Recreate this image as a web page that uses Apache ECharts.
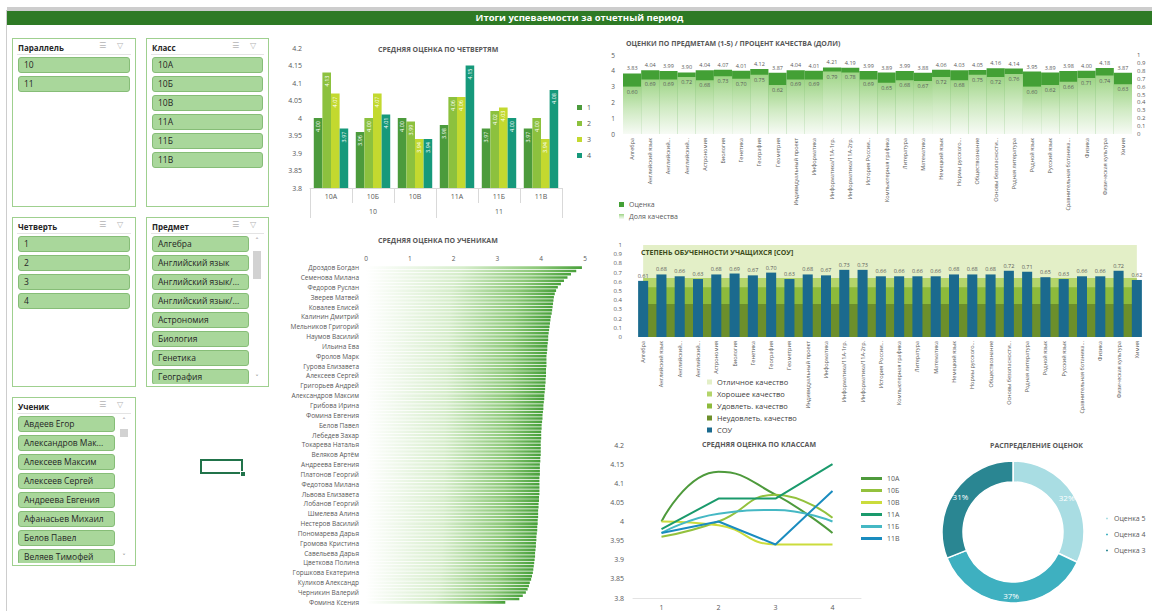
<!DOCTYPE html>
<html>
<head>
<meta charset="utf-8">
<script src="https://cdn.jsdelivr.net/npm/echarts@6/dist/echarts.min.js"></script>
<style>
  body { margin: 0; background: #fff; font-family: 'Open Sans', sans-serif; }
  #chart { position: absolute; left: 0; top: 0; width: 1159px; height: 611px; }
  .abs { position: absolute; }
  .sl { position: absolute; border: 1px solid #9fd08f; background: #fff; box-sizing: border-box; }
  .sl .hd { position: absolute; left: 5px; top: 3px; font: bold 8px 'Open Sans'; color: #262626; }
  .sl .ln { position: absolute; left: 4px; right: 4px; top: 15px; height: 1px; background: #e4e4e4; }
  .sl .ic { position: absolute; top: 2px; font: 8px 'DejaVu Sans'; color: #b4b4b4; }
  .sl .list { position: absolute; left: 0; right: 0; top: 17px; bottom: 2px; overflow: hidden; }
  .sl .it { position: absolute; height: 16px; box-sizing: border-box; background: #a9d79b; border: 1px solid #86bd77;
            border-radius: 3px; font: 8.5px 'Open Sans'; color: #262626; line-height: 14px; padding-left: 5px;
            white-space: nowrap; overflow: hidden; }
  .sl .sb { position: absolute; width: 10px; }
  .sl .ar { position: absolute; left: 0; width: 10px; text-align: center; font: 7px 'DejaVu Sans'; color: #777; }
  .sl .th { position: absolute; left: 1px; width: 8px; background: #d2d2d2; }
</style>
</head>
<body>
<div id="chart"></div>
<div id="ui"></div>
<script>
// ---- данные ----
const classes = ['10А', '10Б', '10В', '11А', '11Б', '11В']
const parallels = ['10', '11']
const quarters = ['1', '2', '3', '4']
// средняя оценка по четвертям (по классам)
const q1 = [4.00, 3.96, 4.00, 3.98, 3.97, 3.97]
const q2 = [4.13, 4.00, 3.99, 4.06, 4.02, 4.00]
const q3 = [4.07, 4.07, 3.94, 4.06, 4.03, 3.94]
const q4 = [3.97, 4.01, 3.94, 4.15, 4.00, 4.08]

const subjects = ['Алгебра', 'Английский язык', 'Английский...', 'Английский...', 'Астрономия', 'Биология',
  'Генетика', 'География', 'Геометрия', 'Индивидуальный проект', 'Информатика', 'Информатика/11А-1гр.',
  'Информатика/11А-2гр.', 'История России...', 'Компьютерная графика', 'Литература', 'Математика',
  'Немецкий язык', 'Нормы русского...', 'Обществознание', 'Основы безопасности...', 'Родная литература',
  'Родной язык', 'Русский язык', 'Сравнительная ботаника...', 'Физика', 'Физическая культура', 'Химия']
const subjAvg = [3.83, 4.04, 3.99, 3.90, 4.04, 4.07, 4.01, 4.12, 3.87, 4.04, 4.01, 4.21, 4.19, 3.99,
  3.89, 3.99, 3.88, 4.06, 4.03, 4.05, 4.16, 4.14, 3.95, 3.89, 3.98, 4.00, 4.18, 3.87]
const subjQuality = [0.60, 0.69, 0.69, 0.72, 0.68, 0.73, 0.70, 0.75, 0.62, 0.69, 0.69, 0.79, 0.78, 0.69,
  0.65, 0.68, 0.67, 0.72, 0.68, 0.75, 0.72, 0.76, 0.60, 0.62, 0.66, 0.71, 0.74, 0.63]
const subjSou = [0.61, 0.68, 0.66, 0.63, 0.68, 0.69, 0.67, 0.70, 0.63, 0.68, 0.67, 0.73, 0.73, 0.66,
  0.66, 0.66, 0.66, 0.68, 0.68, 0.68, 0.72, 0.71, 0.65, 0.63, 0.66, 0.66, 0.72, 0.62]
// границы уровней СОУ
const bandNames = ['Отличное качество', 'Хорошее качество', 'Удовлеть. качество', 'Неудовлеть. качество']
const bandTops = [1.0, 0.64, 0.54, 0.36]

// подписаны только каждые 3 ученика
const studentNames = ['Дроздов Богдан', 'Семенова Милана', 'Федоров Руслан', 'Зверев Матвей', 'Ковалев Елисей',
  'Калинин Дмитрий', 'Мельников Григорий', 'Наумов Василий', 'Ильина Ева', 'Фролов Марк', 'Гурова Елизавета',
  'Алексеев Сергей', 'Григорьев Андрей', 'Александров Максим', 'Грибова Ирина', 'Фомина Евгения', 'Белов Павел',
  'Лебедев Захар', 'Токарева Наталья', 'Веляков Артём', 'Андреева Евгения', 'Платонов Георгий', 'Федотова Милана',
  'Львова Елизавета', 'Лобанов Георгий', 'Шмелева Алина', 'Нестеров Василий', 'Пономарева Дарья',
  'Громова Кристина', 'Савельева Дарья', 'Цветкова Полина', 'Горшкова Екатерина', 'Куликов Александр',
  'Черникин Валерий', 'Фомина Ксения']
const studentScores = [
  4.93, 4.80, 4.68, 4.60, 4.52, 4.45, 4.38, 4.34, 4.31, 4.29, 4.28, 4.27, 4.26, 4.25, 4.24,
  4.22, 4.21, 4.20, 4.19, 4.18, 4.17, 4.16, 4.16, 4.15, 4.14, 4.14, 4.13, 4.12, 4.12, 4.12,
  4.12, 4.11, 4.11, 4.11, 4.10, 4.10, 4.09, 4.09, 4.08, 4.07, 4.07, 4.06, 4.05, 4.05, 4.04,
  4.03, 4.03, 4.02, 4.01, 4.01, 4.00, 4.00, 4.00, 3.99, 3.99, 3.99, 3.99, 3.99, 3.98, 3.98,
  3.97, 3.97, 3.97, 3.97, 3.96, 3.96, 3.96, 3.96, 3.96, 3.96, 3.95, 3.95, 3.94, 3.94, 3.93,
  3.93, 3.93, 3.92, 3.92, 3.91, 3.91, 3.90, 3.89, 3.89, 3.88, 3.88, 3.87, 3.86, 3.86, 3.85,
  3.84, 3.83, 3.82, 3.81, 3.79, 3.77, 3.74, 3.72, 3.69, 3.65, 3.58, 3.50, 3.18]

const gradeNames = ['Оценка 5', 'Оценка 4', 'Оценка 3']
const gradeShare = [32, 37, 31]

// ---- оформление ----
const GRAY = '#595959'
const qColors = ['#4c9b3c', '#8cc13e', '#c3d92f', '#16997b']
const classColors = ['#4e9a3c', '#93c13d', '#cbdc3c', '#1a9a6c', '#45b8c4', '#1a8cbf']
const classSmooth = [true, true, true, false, true, false]
const bandColors = ['#e3efc7', '#b3d46a', '#8dba3b', '#6c8f2b']
const gradeColors = ['#a9dde3', '#3eb0c0', '#2a8692']

const studentAxis = studentScores.map((v, i) => (i % 3 === 0 ? studentNames[i / 3] : ''))
const quarterData = [q1, q2, q3, q4]

const chart = echarts.init(document.getElementById('chart'), null, { renderer: 'svg' })

const titleStyle = { fontSize: 7, fontWeight: 'bold', color: GRAY }
const small = (size) => ({ fontSize: size, color: GRAY })

const series = []

// четверти
quarters.forEach((q, k) => {
  series.push({
    name: q, type: 'bar', xAxisIndex: 0, yAxisIndex: 0,
    data: quarterData[k], barGap: '0%', barCategoryGap: '18%',
    itemStyle: { color: qColors[k] },
    label: {
      show: true, position: 'insideTop', rotate: 90, align: 'right', verticalAlign: 'middle',
      distance: 3, fontSize: 5.5, color: '#fff', formatter: p => p.value.toFixed(2)
    }
  })
})

// оценки по предметам / доля качества
series.push({
  name: 'Оценка', type: 'bar', xAxisIndex: 2, yAxisIndex: 1, data: subjAvg,
  barGap: '-100%', barCategoryGap: '0%',
  itemStyle: { color: '#43a035' },
  label: { show: true, position: 'top', distance: 2, fontSize: 5.5, color: GRAY, formatter: p => p.value.toFixed(2) }
})
series.push({
  name: 'Доля качества', type: 'bar', xAxisIndex: 2, yAxisIndex: 2, data: subjQuality,
  barGap: '-100%', barCategoryGap: '0%',
  itemStyle: {
    color: { type: 'linear', x: 0, y: 0, x2: 0, y2: 1,
      colorStops: [{ offset: 0, color: '#9ed486' }, { offset: 0.5, color: '#cfeac2' }, { offset: 1, color: '#f7fbf5' }] }
  },
  label: { show: true, position: 'insideTop', distance: 2, fontSize: 5.5, color: GRAY, formatter: p => p.value.toFixed(2) }
})

// ученики
series.push({
  name: 'Средняя', type: 'bar', xAxisIndex: 3, yAxisIndex: 3, data: studentScores,
  barCategoryGap: '22%',
  itemStyle: {
    color: { type: 'linear', x: 0, y: 0, x2: 1, y2: 0,
      colorStops: [{ offset: 0, color: '#ffffff' }, { offset: 0.45, color: '#d6edcb' },
        { offset: 0.8, color: '#8cc878' }, { offset: 1, color: '#48a03a' }] }
  }
})

// СОУ: полосы уровней
bandNames.forEach((n, k) => {
  series.push({
    name: n, type: 'line', xAxisIndex: 4, yAxisIndex: 4,
    data: [[0, bandTops[k]], [subjects.length - 1, bandTops[k]]],
    symbol: 'none', silent: true, z: 1,
    lineStyle: { opacity: 0 },
    itemStyle: { color: bandColors[k] },
    areaStyle: { color: bandColors[k], opacity: 1 }
  })
})
series.push({
  name: 'СОУ', type: 'bar', xAxisIndex: 4, yAxisIndex: 4, data: subjSou, z: 3,
  barCategoryGap: '45%',
  itemStyle: { color: '#1b6a8e' },
  label: { show: true, position: 'top', distance: 2, fontSize: 5.5, color: GRAY, formatter: p => p.value.toFixed(2) }
})

// по классам
classes.forEach((c, i) => {
  series.push({
    name: c, type: 'line', xAxisIndex: 5, yAxisIndex: 5,
    data: quarterData.map(q => q[i]),
    smooth: classSmooth[i], symbol: 'none',
    lineStyle: { width: 2, color: classColors[i] },
    itemStyle: { color: classColors[i] }
  })
})

// распределение оценок
series.push({
  name: 'Распределение', type: 'pie', center: [1013, 532], radius: [50, 71],
  startAngle: 90, clockwise: true,
  itemStyle: { borderColor: '#fff', borderWidth: 1.5 },
  label: { position: 'inside', formatter: p => p.value + '%', color: '#fff', fontSize: 8 },
  labelLine: { show: false },
  data: gradeNames.map((n, k) => ({ name: n, value: gradeShare[k], itemStyle: { color: gradeColors[k] } }))
})

const hideAxis = { axisLine: { show: false }, axisTick: { show: false }, splitLine: { show: false } }

const option = {
  animation: false,
  textStyle: { fontFamily: "'Open Sans', sans-serif" },
  title: [
    { text: 'СРЕДНЯЯ ОЦЕНКА ПО ЧЕТВЕРТЯМ', left: 378, top: 46, padding: 0, textStyle: titleStyle },
    { text: 'ОЦЕНКИ ПО ПРЕДМЕТАМ (1-5) / ПРОЦЕНТ КАЧЕСТВА (ДОЛИ)', left: 626, top: 40, padding: 0, textStyle: titleStyle },
    { text: 'СРЕДНЯЯ ОЦЕНКА ПО УЧЕНИКАМ', left: 378, top: 237, padding: 0, textStyle: titleStyle },
    { text: 'СТЕПЕНЬ ОБУЧЕННОСТИ УЧАЩИХСЯ [СОУ]', left: 641, top: 249, padding: 0,
      textStyle: { fontSize: 7, fontWeight: 'bold', color: '#3e4d1c' } },
    { text: 'СРЕДНЯЯ ОЦЕНКА ПО КЛАССАМ', left: 702, top: 441, padding: 0, textStyle: titleStyle },
    { text: 'РАСПРЕДЕЛЕНИЕ ОЦЕНОК', left: 990, top: 442, padding: 0, textStyle: titleStyle }
  ],
  legend: [
    { data: quarters, orient: 'vertical', left: 577, top: 104, icon: 'rect', itemWidth: 5, itemHeight: 5,
      itemGap: 9, textStyle: small(7), padding: 0 },
    { data: ['Оценка', 'Доля качества'], orient: 'vertical', left: 619, top: 201, icon: 'rect', itemWidth: 5,
      itemHeight: 5, itemGap: 5, textStyle: small(7), padding: 0 },
    { data: bandNames.concat(['СОУ']), orient: 'vertical', left: 707, top: 378, icon: 'rect', itemWidth: 5,
      itemHeight: 5, itemGap: 4, textStyle: { fontSize: 7.5, color: '#404040' }, padding: 0 },
    { data: classes, orient: 'vertical', left: 861, top: 475, icon: 'rect', itemWidth: 21, itemHeight: 3,
      itemGap: 5, textStyle: small(7), padding: 0 },
    { data: gradeNames, orient: 'vertical', left: 1104, top: 515, icon: 'circle', itemWidth: 4, itemHeight: 4,
      itemGap: 9, textStyle: small(7), padding: 0 }
  ],
  grid: [
    { left: 310, top: 48, width: 252, height: 140, outerBoundsMode: 'none' },
    { left: 623, top: 55, width: 509, height: 79, outerBoundsMode: 'none' },
    { left: 366, top: 266, width: 219, height: 338, outerBoundsMode: 'none' },
    { left: 634, top: 245, width: 512, height: 92, outerBoundsMode: 'none' },
    { left: 633, top: 445, width: 228, height: 153, outerBoundsMode: 'none' }
  ],
  xAxis: [
    { type: 'category', gridIndex: 0, data: classes,
      axisLine: { lineStyle: { color: '#d9d9d9' } }, axisTick: { show: true, length: 15, lineStyle: { color: '#d9d9d9' } },
      axisLabel: { interval: 0, margin: 5, ...small(7) } },
    { type: 'category', gridIndex: 0, data: parallels, position: 'bottom', offset: 15,
      axisLine: { show: false }, axisTick: { show: true, length: 15, lineStyle: { color: '#d9d9d9' } },
      axisLabel: { interval: 0, margin: 5, ...small(7) } },
    { type: 'category', gridIndex: 1, data: subjects,
      axisLine: { show: false }, axisTick: { show: false },
      axisLabel: { interval: 0, rotate: 90, margin: 4, ...small(5.5) } },
    { type: 'value', gridIndex: 2, position: 'top', min: 0, max: 5, interval: 1, ...hideAxis,
      axisLabel: { margin: 4, ...small(6.5) } },
    { type: 'category', gridIndex: 3, data: subjects,
      axisLine: { show: false }, axisTick: { show: false },
      axisLabel: { interval: 0, rotate: 90, margin: 4, ...small(5.5) } },
    { type: 'category', gridIndex: 4, data: quarters,
      axisLine: { lineStyle: { color: '#e3e3e3' } }, axisTick: { show: false },
      axisLabel: { margin: 6, ...small(7) } }
  ],
  yAxis: [
    { type: 'value', gridIndex: 0, min: 3.8, max: 4.2, interval: 0.05, ...hideAxis,
      axisLabel: { margin: 8, ...small(7) } },
    { type: 'value', gridIndex: 1, min: 0, max: 5, interval: 1, ...hideAxis,
      axisLabel: { margin: 8, ...small(6.5) } },
    { type: 'value', gridIndex: 1, position: 'right', min: 0, max: 1, interval: 0.1, ...hideAxis,
      axisLabel: { margin: 5, ...small(6) } },
    { type: 'category', gridIndex: 2, data: studentAxis, inverse: true,
      axisLine: { show: false }, axisTick: { show: false },
      axisLabel: { interval: 0, margin: 7, ...small(6.5) } },
    { type: 'value', gridIndex: 3, min: 0, max: 1, interval: 0.1, ...hideAxis,
      axisLabel: { margin: 12, ...small(6) } },
    { type: 'value', gridIndex: 4, min: 3.8, max: 4.2, interval: 0.05, ...hideAxis,
      axisLabel: { margin: 9, ...small(7) } }
  ],
  series: series
}

chart.setOption(option)

// ---- срезы (слайсеры) ----
const slicers = [
  { title: 'Параллель', x: 12, y: 38, w: 124, h: 169, items: parallels, iw: 112 },
  { title: 'Класс', x: 146, y: 38, w: 123, h: 169, items: classes, iw: 111 },
  { title: 'Четверть', x: 12, y: 217, w: 124, h: 170, items: quarters, iw: 112 },
  { title: 'Предмет', x: 146, y: 217, w: 123, h: 170, iw: 97, scroll: [33, 28],
    items: ['Алгебра', 'Английский язык', 'Английский язык/...', 'Английский язык/...', 'Астрономия', 'Биология', 'Генетика', 'География'] },
  { title: 'Ученик', x: 12, y: 397, w: 124, h: 169, iw: 97, scroll: [31, 8],
    items: ['Авдеев Егор', 'Александров Мак...', 'Алексеев Максим', 'Алексеев Сергей', 'Андреева Евгения', 'Афанасьев Михаил', 'Белов Павел', 'Веляев Тимофей'] }
]
const ui = document.getElementById('ui')
slicers.forEach(s => {
  let html = `<div class="hd">${s.title}</div><div class="ln"></div>` +
    `<div class="ic" style="left:${s.w - 38}px">☰</div><div class="ic" style="left:${s.w - 20}px">▽</div><div class="list">`
  s.items.forEach((t, i) => {
    html += `<div class="it" style="left:5px;top:${1 + i * 19}px;width:${s.iw}px">${t}</div>`
  })
  html += '</div>'
  if (s.scroll) {
    html += `<div class="sb" style="left:${s.w - 18}px;top:19px;height:${s.h - 25}px">` +
      `<div class="ar" style="top:0">˄</div>` +
      `<div class="th" style="top:${s.scroll[0] - 19}px;height:${s.scroll[1]}px"></div>` +
      `<div class="ar" style="bottom:0">˅</div></div>`
  }
  const d = document.createElement('div')
  d.className = 'sl'
  d.style.cssText = `left:${s.x}px;top:${s.y}px;width:${s.w}px;height:${s.h}px`
  d.innerHTML = html
  ui.appendChild(d)
})

// шапка и прочее
ui.insertAdjacentHTML('beforeend',
  '<div class="abs" style="left:7px;top:7px;width:1145px;height:4px;background:#cdcdcd"></div>' +
  '<div class="abs" style="left:6px;top:10px;width:1px;height:601px;background:#cdcdcd"></div>' +
  '<div class="abs" style="left:7px;top:11px;width:1145px;height:14px;background:#2e7a25;color:#fff;' +
  'font:bold 9.5px \'Open Sans\';text-align:center;line-height:14px">Итоги успеваемости за отчетный период</div>' +
  '<div class="abs" style="left:200px;top:459px;width:43px;height:15px;border:2px solid #21734a;box-sizing:border-box"></div>' +
  '<div class="abs" style="left:240px;top:471px;width:4px;height:4px;background:#21734a;border:1px solid #fff"></div>')
</script>
</body>
</html>
